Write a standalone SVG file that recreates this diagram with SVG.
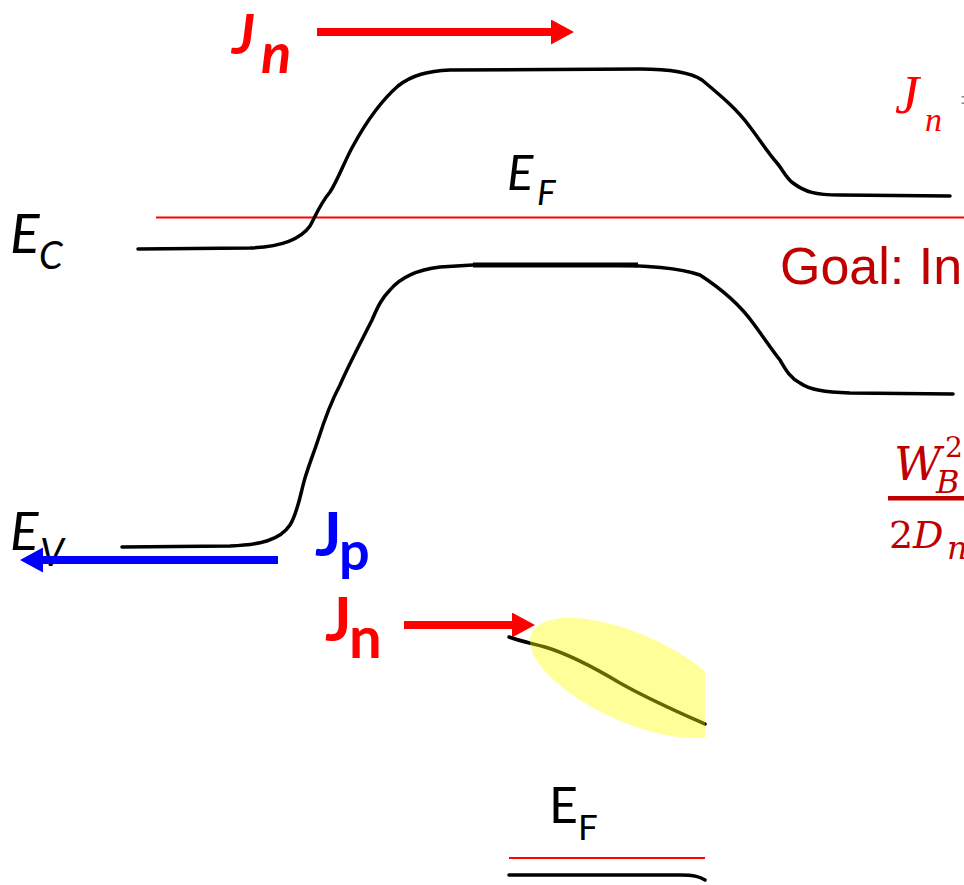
<svg xmlns="http://www.w3.org/2000/svg" width="964" height="885" viewBox="0 0 964 885">
<style>
.band{fill:none;stroke:#000;stroke-width:3.5;stroke-linecap:round;stroke-linejoin:round}
.ef{stroke:#FF0000;stroke-width:2;fill:none}
.lbl{font-family:Lato,"Open Sans",sans-serif;fill:#000}
.it{font-style:italic}
.bold{font-weight:bold}
.math{font-family:"DejaVu Serif",serif;fill:#C00000;font-style:italic}
.up{font-style:normal}
</style>
<defs>
<marker id="headRed" markerUnits="userSpaceOnUse" markerWidth="24" markerHeight="26" refX="0" refY="12.5" orient="auto"><path d="M0,0 L23,12.5 L0,25 z" fill="#FF0000"/></marker>
<marker id="headBlue" markerUnits="userSpaceOnUse" markerWidth="24" markerHeight="26" refX="0" refY="12.5" orient="auto"><path d="M0,0 L23,12.5 L0,25 z" fill="#0000FF"/></marker>
<clipPath id="clipEll"><rect x="0" y="0" width="705" height="885"/></clipPath>
</defs>
<rect width="964" height="885" fill="#fff"/>

<g id="fermi-top">
<line class="ef" x1="156" y1="217.5" x2="964" y2="217.5"/>
</g>

<g id="conduction-band">
<path class="band" d="M138,249 L250,248 C280,247 300,240 310,226 C316,215 320,204 330,192 C338,180 345,160 353,146 C365,124 382,100 398,86 C412,75 428,71 450,70 L640,69 C670,69 690,72 702,80 C720,95 738,110 750,127 C760,140 768,153 777,163 C783,170 786,178 793,183 C805,192 815,195 840,195 L950,196"/>
</g>

<g id="valence-band">
<path class="band" d="M122,547 L230,546 C260,545 280,540 290,525 C298,512 300,495 305,478 C310,462 313,455 318,440 C325,418 332,400 340,385 C350,362 362,340 372,320 C378,306 382,298 390,290 C400,278 415,270 440,267 L473,265 L600,265 C650,265 680,268 700,275 C720,288 740,305 753,323 C762,335 772,350 780,360 C786,370 790,378 800,383 C810,390 825,392 850,393 L953,394"/>
<line x1="473" y1="265" x2="638" y2="265" stroke="#000" stroke-width="5"/>
</g>

<g id="label-Ec">
<text class="lbl it" x="10" y="253" font-size="55">E</text>
<text class="lbl it" x="39" y="269" font-size="38">C</text>
</g>
<g id="label-Ev">
<text class="lbl it" x="10" y="550" font-size="53">E</text>
<text class="lbl it" x="40" y="566" font-size="38">V</text>
</g>
<g id="label-Ef-top">
<text class="lbl it" x="507" y="190" font-size="49">E</text>
<text class="lbl it" x="537" y="205" font-size="35">F</text>
</g>

<g id="connectors">
<line x1="317" y1="32" x2="551" y2="32" stroke="#FF0000" stroke-width="8" marker-end="url(#headRed)"/>
<line x1="278" y1="560" x2="43" y2="560" stroke="#0000FF" stroke-width="8" marker-end="url(#headBlue)"/>
<line x1="404" y1="625" x2="512" y2="625" stroke="#FF0000" stroke-width="8" marker-end="url(#headRed)"/>
</g>

<g id="label-Jn-top">
<text class="lbl it bold" x="232" y="54" font-size="56" style="fill:#FF0000">J</text>
<text class="lbl it bold" x="261" y="73" font-size="56" style="fill:#FF0000">n</text>
</g>
<g id="label-Jp">
<text class="lbl bold" x="315" y="556" font-size="62" style="fill:#0000FF">J</text>
<text class="lbl bold" x="339" y="570" font-size="54" style="fill:#0000FF">p</text>
</g>
<g id="label-Jn-mid">
<text class="lbl bold" x="325" y="641" font-size="62" style="fill:#FF0000">J</text>
<text class="lbl bold" x="349" y="658" font-size="58" style="fill:#FF0000">n</text>
</g>

<g id="right-eq">
<text x="895" y="113" font-family="'Liberation Serif',serif" font-style="italic" font-size="54" fill="#FF0000">J</text>
<text x="925" y="131" font-family="'Liberation Serif',serif" font-style="italic" font-size="34" fill="#FF0000">n</text>
<text x="960" y="111" font-family="'Liberation Serif',serif" font-size="32" fill="#888">=</text>
</g>

<g id="goal">
<text x="780" y="284" font-family="'Liberation Sans',Arial,sans-serif" font-size="52" fill="#C00000">Goal: In</text>
</g>

<g id="fraction">
<text class="math" x="894" y="480" font-size="46">W</text>
<text class="math" x="936" y="493" font-size="32">B</text>
<text class="math up" x="945" y="457" font-size="28">2</text>
<rect x="888" y="496" width="80" height="4.5" fill="#C00000"/>
<text class="math up" x="889" y="548" font-size="38">2</text>
<text class="math" x="913" y="548" font-size="38">D</text>
<text class="math" x="947" y="559" font-size="32">n</text>
</g>

<g id="lower-band">
<path class="band" d="M509,637 C520,641 530,643 545,647 C565,653 590,665 620,683 C650,700 680,713 705,724" stroke-linecap="butt"/>
<g clip-path="url(#clipEll)">
<ellipse cx="632" cy="678" rx="110" ry="44" transform="rotate(24 632 678)" fill="#FFFF00" fill-opacity="0.4"/>
</g>
</g>

<g id="label-Ef-bottom">
<text class="lbl" x="549" y="823" font-size="50">E</text>
<text class="lbl" x="578" y="840" font-size="35">F</text>
</g>
<g id="bottom-lines">
<line class="ef" x1="509" y1="858" x2="705" y2="858" stroke-width="2.5"/>
<path class="band" d="M509,875 L680,875 C695,875 700,877 705,880" stroke-linecap="butt"/>
</g>
</svg>
